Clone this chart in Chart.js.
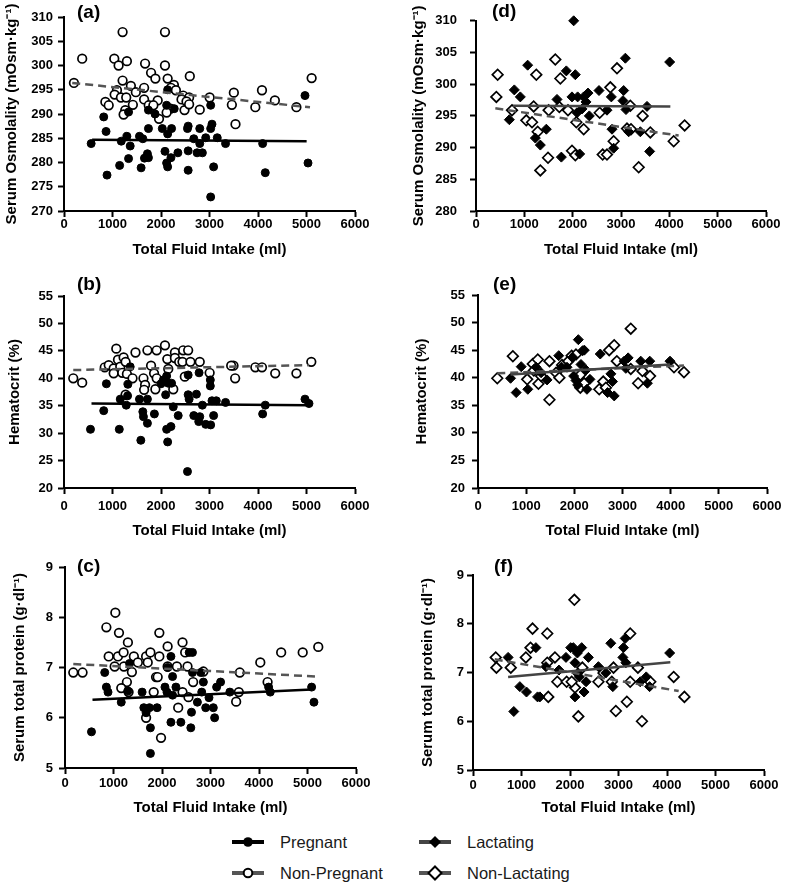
<!DOCTYPE html>
<html>
<head>
<meta charset="utf-8">
<script src="https://cdn.jsdelivr.net/npm/chart.js@4.4.1/dist/chart.umd.min.js"></script>
<style>
  body { margin: 0; background: #fff; width: 787px; height: 891px; position: relative; overflow: hidden;
         font-family: "Liberation Sans", Arial, Helvetica, sans-serif; }
  .panel { position: absolute; }
  .leg { position: absolute; display: flex; align-items: center; height: 20px; font-size: 16.5px; color: #1a1a1a; }
  .leg svg { margin-right: 16px; }
</style>
</head>
<body>
<div class="leg" style="left:232px; top:832px">
  <svg width="32" height="20"><line x1="0" y1="10" x2="32" y2="10" stroke="#000" stroke-width="4"/><circle cx="16" cy="10" r="4.8" fill="#000"/></svg><span>Pregnant</span>
</div>
<div class="leg" style="left:419px; top:832px">
  <svg width="32" height="20"><line x1="0" y1="10" x2="32" y2="10" stroke="#444" stroke-width="4"/><polygon points="16,4 22,10 16,16 10,10" fill="#000"/></svg><span>Lactating</span>
</div>
<div class="leg" style="left:232px; top:863px">
  <svg width="32" height="20"><line x1="0" y1="10" x2="32" y2="10" stroke="#555" stroke-width="4"/><circle cx="16" cy="10" r="4.3" fill="#fff" stroke="#000" stroke-width="2"/></svg><span>Non-Pregnant</span>
</div>
<div class="leg" style="left:419px; top:863px">
  <svg width="32" height="20"><line x1="0" y1="10" x2="32" y2="10" stroke="#555" stroke-width="4"/><polygon points="16,3.5 22.5,10 16,16.5 9.5,10" fill="#fff" stroke="#000" stroke-width="2"/></svg><span>Non-Lactating</span>
</div>

<script>
const FONT = '"Liberation Sans", Arial, Helvetica, sans-serif';

// tick values
const xTickVals = [0, 1000, 2000, 3000, 4000, 5000, 6000];
const osmTicksA = [270, 275, 280, 285, 290, 295, 300, 305, 310];
const osmTicksD = [280, 285, 290, 295, 300, 305, 310];
const hctTicks = [20, 25, 30, 35, 40, 45, 50, 55];
const protTicks = [5, 6, 7, 8, 9];

// (a) serum osmolality, pregnancy study  [fluid intake ml, mOsm/kg]
const aPregnant = [[560,283.9],[819,289.4],[867,286.4],[887,277.4],[1147,279.4],[1181,284.4],[1297,285.4],[1365,283.4],[1331,280.8],[1331,290.4],[1556,285.4],[1625,284.9],[1590,278.9],[1659,280.9],[1720,281.8],[1741,281.0],[1741,287.0],[1741,290.8],[1877,290.0],[2027,287.0],[2082,282.3],[2116,279.9],[2137,279.1],[2205,281.0],[2137,285.9],[2218,287.0],[2116,291.8],[2137,295.0],[2273,291.1],[2348,282.0],[2546,287.0],[2560,287.5],[2560,282.4],[2560,278.4],[2676,284.9],[2799,287.0],[2799,283.9],[2744,282.0],[2853,282.0],[2922,285.1],[3024,287.0],[3051,287.9],[3024,291.8],[3085,279.1],[3024,272.9],[3160,285.1],[3331,283.9],[4096,283.9],[4150,277.9],[4969,293.8],[5031,279.9]];
const aNonPregnant = [[205,296.4],[375,301.4],[1208,306.9],[2082,306.9],[1037,301.4],[1297,300.9],[1126,300.0],[1672,300.4],[2082,300.0],[1795,298.5],[1884,297.3],[2137,297.3],[2594,297.8],[1208,296.9],[1379,295.8],[1652,295.4],[2266,296.0],[2205,295.4],[2307,294.9],[1092,294.9],[1044,294.0],[1481,294.5],[1174,293.4],[1283,293.4],[1652,293.0],[1932,292.8],[2457,293.8],[2580,293.4],[2423,293.0],[2526,292.6],[3003,293.4],[3502,294.4],[4082,294.9],[4348,292.8],[5106,297.4],[4792,291.4],[3945,291.4],[3461,291.9],[853,292.5],[922,291.8],[1420,291.9],[1263,290.8],[1229,289.9],[1747,291.8],[1843,291.8],[1959,289.0],[2198,291.1],[2116,290.3],[2485,290.8],[2580,292.0],[2799,290.9],[3536,287.9]];
const aPregnantFit = [[580,284.7],[5003,284.4]];
const aNonPregnantFit = [[170,296.4],[5072,291.4]];

// (b) hematocrit, pregnancy study
const bPregnant = [[546,30.7],[819,34.1],[874,39.0],[1140,30.7],[1160,36.2],[1283,35.1],[1311,36.8],[1317,38.9],[1365,42.1],[1556,36.2],[1584,28.7],[1625,33.9],[1638,33.0],[1720,31.8],[1720,36.2],[1864,33.5],[2000,39.0],[2048,39.7],[2096,37.0],[2116,30.7],[2137,28.4],[2205,31.2],[2116,40.4],[2150,39.1],[2218,39.1],[2253,34.8],[2355,33.2],[2560,40.6],[2560,37.0],[2580,36.2],[2546,23.0],[2676,33.2],[2730,37.1],[2785,41.0],[2853,35.1],[2778,32.1],[2799,33.0],[2922,31.6],[3024,31.5],[3017,39.7],[3017,38.6],[3051,35.9],[3140,35.9],[3085,33.2],[3331,35.6],[4150,35.1],[4096,33.5],[4969,36.2],[5051,35.4]];
const bNonPregnant = [[191,40.0],[375,39.2],[1078,45.4],[840,42.0],[922,42.4],[1024,41.8],[1024,40.9],[1113,43.4],[1229,43.8],[1160,42.1],[1270,43.0],[1201,41.0],[1297,40.8],[1413,40.0],[1474,44.7],[1270,37.0],[1720,45.1],[1911,45.1],[2082,46.0],[2287,44.7],[2457,45.1],[2560,45.1],[2130,43.5],[2287,43.7],[2375,43.0],[2443,43.0],[2607,43.0],[2799,43.0],[1795,42.3],[2150,41.7],[1857,40.9],[1911,40.0],[1638,40.0],[1672,38.8],[1652,37.9],[1884,38.0],[2253,38.0],[2491,40.3],[3003,41.0],[3495,42.3],[3529,40.0],[3945,42.0],[4082,42.0],[4355,40.9],[4792,40.9],[5099,43.0],[3447,42.3]];
const bPregnantFit = [[567,35.4],[5051,35.1]];
const bNonPregnantFit = [[191,41.5],[5051,42.4]];

// (c) serum total protein, pregnancy study
const cPregnant = [[819,6.90],[853,6.61],[887,6.51],[1160,6.31],[1297,6.53],[1331,7.08],[1590,6.51],[1625,6.20],[1741,6.20],[1898,6.20],[1672,6.10],[1761,5.80],[1761,5.29],[2184,5.91],[2389,5.91],[2594,5.80],[2608,6.11],[2061,6.61],[2102,6.51],[2218,6.45],[2116,7.00],[2184,7.22],[2218,6.82],[2287,6.61],[2560,7.30],[2628,7.30],[2628,6.90],[2799,6.90],[2730,6.31],[2853,6.71],[2819,6.51],[2969,6.40],[2901,6.20],[3058,6.20],[3085,6.00],[3126,6.61],[3208,6.71],[3399,6.51],[4198,6.61],[4232,6.51],[5085,6.61],[5133,6.31],[546,5.72]];
const cNonPregnant = [[171,6.90],[362,6.90],[1038,8.09],[853,7.80],[1113,7.69],[1297,7.50],[1945,7.69],[901,7.22],[1092,7.22],[1208,7.30],[1024,7.02],[1215,7.02],[1420,7.22],[1502,7.10],[1379,6.91],[1672,7.22],[1761,7.30],[1706,7.10],[1945,7.22],[2116,7.42],[2423,7.50],[2478,7.30],[2116,7.02],[2307,7.02],[2526,7.02],[1276,6.71],[1160,6.59],[1877,6.81],[1911,6.81],[1829,6.51],[1311,6.51],[2423,6.51],[2546,6.41],[2642,6.71],[2853,6.92],[3604,6.90],[3584,6.51],[3529,6.32],[4027,7.10],[4177,6.71],[4457,7.30],[4901,7.30],[5222,7.41],[2334,6.20],[1672,6.00],[1980,5.60]];
const cPregnantFit = [[567,6.36],[5085,6.56]];
const cNonPregnantFit = [[171,7.07],[5188,6.82]];

// (d) serum osmolality, lactation study
const dLactating = [[690,294.4],[793,299.1],[917,298.0],[1069,303.0],[1228,291.5],[1331,290.4],[1455,292.9],[1676,297.6],[1766,288.5],[1869,302.1],[2021,310.0],[2055,301.5],[1986,298.0],[2103,298.0],[2090,295.5],[2145,289.0],[2193,296.1],[2228,298.0],[2276,297.2],[2317,298.6],[2345,295.0],[2545,299.0],[2710,295.9],[2800,298.0],[2814,292.9],[2848,289.9],[3055,299.0],[3090,304.1],[3041,297.4],[3103,296.0],[3159,292.5],[3400,292.5],[3538,296.5],[3593,289.4],[4007,303.5]];
const dNonLactating = [[448,301.5],[421,298.0],[745,295.9],[1248,301.5],[1193,296.5],[1041,294.3],[1159,294.0],[1276,292.5],[1331,286.4],[1490,288.4],[1503,295.9],[1641,303.9],[1745,300.9],[1724,296.4],[1903,295.9],[1986,289.5],[2055,288.8],[2076,294.0],[2228,292.9],[2559,295.5],[2621,288.9],[2710,288.9],[2779,299.5],[2917,302.5],[2848,291.0],[3124,293.0],[3193,296.6],[3207,292.9],[3366,286.9],[3448,295.0],[3607,292.4],[4090,291.0],[4317,293.5]];
const dLactatingFit = [[765,296.6],[4021,296.5]];
const dNonLactatingFit = [[400,296.2],[4193,291.9]];

// (e) hematocrit, lactation study
const eLactating = [[676,39.9],[793,37.3],[897,42.0],[1034,37.9],[1207,41.9],[1310,40.9],[1434,39.6],[1676,44.0],[1738,41.9],[1848,41.9],[1966,43.7],[1986,40.3],[2034,39.5],[2069,38.7],[2083,46.9],[2138,42.4],[2172,44.9],[2207,45.0],[2241,41.4],[2262,37.9],[2324,39.7],[2538,44.3],[2759,40.7],[2793,39.3],[2690,37.3],[2828,36.7],[3034,43.0],[3069,41.7],[3117,43.6],[3379,43.0],[3517,39.0],[3566,43.0],[3986,43.0]];
const eNonLactating = [[400,39.9],[724,43.9],[1021,39.7],[1138,42.5],[1159,41.3],[1241,43.3],[1255,38.9],[1310,40.3],[1483,36.0],[1483,43.0],[1621,40.9],[1690,40.0],[1745,42.3],[1876,43.0],[1945,44.0],[2034,44.2],[2124,40.5],[2124,38.2],[2207,39.0],[2517,37.9],[2600,39.3],[2655,38.2],[2724,45.0],[2828,45.9],[2883,43.0],[3172,48.9],[3172,41.6],[3324,39.0],[3414,41.2],[3572,40.3],[4069,41.9],[4276,41.0]];
const eLactatingFit = [[676,40.6],[3986,42.4]];
const eNonLactatingFit = [[400,40.8],[4276,42.2]];

// (f) serum total protein, lactation study
const fLactating = [[724,7.31],[841,6.20],[966,6.71],[1103,6.60],[1297,7.51],[1331,6.50],[1379,6.50],[1503,7.12],[1772,7.05],[1917,7.31],[2014,7.51],[2069,7.51],[2152,7.40],[2241,7.51],[2103,7.20],[2152,6.98],[2193,6.91],[2103,6.50],[2379,7.31],[2331,6.81],[2290,6.60],[2586,7.12],[2738,6.99],[2841,7.60],[2883,6.71],[3103,7.51],[3090,7.31],[3152,7.20],[3138,7.70],[3448,6.81],[3572,6.91],[3641,6.71],[4055,7.40]];
const fNonLactating = [[469,7.31],[483,7.10],[779,7.10],[1090,7.31],[1228,7.90],[1186,7.51],[1531,7.80],[1552,6.50],[1690,7.31],[1531,7.20],[1738,6.81],[1931,6.81],[2090,8.49],[2103,6.69],[2034,6.81],[2172,6.10],[2255,7.10],[2586,6.81],[2690,6.99],[2862,6.81],[2897,7.10],[2945,6.21],[3172,6.40],[3241,7.80],[3241,6.81],[3400,7.10],[3483,6.00],[3655,6.81],[4138,6.91],[4359,6.50]];
const fLactatingFit = [[724,6.91],[4069,7.21]];
const fNonLactatingFit = [[448,7.27],[4241,6.62]];

const xTitle = 'Total Fluid Intake (ml)';
const osmTitle = 'Serum Osmolality (mOsm·kg⁻¹)';
const hctTitle = 'Hematocrit (%)';
const protTitle = 'Serum total protein (g·dl⁻¹)';

// marker / line styles
const styles = {
  filledCircle: { pointStyle: 'circle', pointRadius: 4.0, pointBackgroundColor: '#000', pointBorderColor: '#000', pointBorderWidth: 1 },
  openCircle:   { pointStyle: 'circle', pointRadius: 4.3, pointBackgroundColor: '#fff', pointBorderColor: '#000', pointBorderWidth: 1.7 },
  filledDiamond:{ pointStyle: 'rectRot', pointRadius: 5.0, pointBackgroundColor: '#000', pointBorderColor: '#000', pointBorderWidth: 1 },
  openDiamond:  { pointStyle: 'rectRot', pointRadius: 5.3, pointBackgroundColor: '#fff', pointBorderColor: '#000', pointBorderWidth: 1.7 },
  solidBlack: { borderColor: '#000', borderWidth: 2.5, borderDash: [] },
  solidGrey:  { borderColor: '#444', borderWidth: 2.5, borderDash: [] },
  dashedGrey: { borderColor: '#555', borderWidth: 2.5, borderDash: [8, 5] }
};

// panel positions in page pixels (canvas box and plot area)
const panels = [
  { label: '(a)', yTitle: osmTitle, yTicks: osmTicksA, fits: [[aPregnantFit, 'solidBlack'], [aNonPregnantFit, 'dashedGrey']],
    pts: [[aPregnant, 'filledCircle'], [aNonPregnant, 'openCircle']],
    cx: 0, cy: 0, cw: 380, ch: 259, L: 64, R: 355, T: 17, B: 211, yPad: 5, xPad: 0, yTitleX: 12, labX: 77, labY: 13 },
  { label: '(b)', yTitle: hctTitle, yTicks: hctTicks, fits: [[bPregnantFit, 'solidBlack'], [bNonPregnantFit, 'dashedGrey']],
    pts: [[bPregnant, 'filledCircle'], [bNonPregnant, 'openCircle']],
    cx: 0, cy: 259, cw: 380, ch: 281, L: 64, R: 355, T: 296, B: 488, yPad: 5, xPad: 5, yTitleX: 15, labX: 77, labY: 285 },
  { label: '(c)', yTitle: protTitle, yTicks: protTicks, fits: [[cPregnantFit, 'solidBlack'], [cNonPregnantFit, 'dashedGrey']],
    pts: [[cPregnant, 'filledCircle'], [cNonPregnant, 'openCircle']],
    cx: 0, cy: 540, cw: 380, ch: 277, L: 65, R: 356, T: 567, B: 768, yPad: 6, xPad: 2, yTitleX: 20, labX: 77, labY: 567 },
  { label: '(d)', yTitle: osmTitle, yTicks: osmTicksD, fits: [[dLactatingFit, 'solidGrey'], [dNonLactatingFit, 'dashedGrey']],
    pts: [[dLactating, 'filledDiamond'], [dNonLactating, 'openDiamond']],
    cx: 380, cy: 0, cw: 407, ch: 259, L: 476, R: 766, T: 17, B: 211, yPad: 13, xPad: 0, yTitleX: 419, labX: 492, labY: 12 },
  { label: '(e)', yTitle: hctTitle, yTicks: hctTicks, fits: [[eLactatingFit, 'solidGrey'], [eNonLactatingFit, 'dashedGrey']],
    pts: [[eLactating, 'filledDiamond'], [eNonLactating, 'openDiamond']],
    cx: 380, cy: 259, cw: 407, ch: 281, L: 478, R: 767, T: 295, B: 488, yPad: 7, xPad: 5, yTitleX: 422, labX: 493, labY: 285 },
  { label: '(f)', yTitle: protTitle, yTicks: protTicks, fits: [[fLactatingFit, 'solidGrey'], [fNonLactatingFit, 'dashedGrey']],
    pts: [[fLactating, 'filledDiamond'], [fNonLactating, 'openDiamond']],
    cx: 380, cy: 540, cw: 407, ch: 277, L: 473, R: 764, T: 575, B: 770, yPad: 3, xPad: 2, yTitleX: 428, labX: 494, labY: 567 }
];

// draws "(a)", "(b)" ... in the corner of each panel
const panelLabel = {
  id: 'panelLabel',
  afterDraw(chart, args, opts) {
    const ctx = chart.ctx;
    ctx.save();
    ctx.font = 'bold 19px ' + FONT;
    ctx.fillStyle = '#000';
    ctx.textAlign = 'left';
    ctx.textBaseline = 'middle';
    ctx.fillText(opts.text, opts.x, opts.y);
    ctx.restore();
  }
};

const toXY = arr => arr.map(p => ({ x: p[0], y: p[1] }));
const TICK = 6;
const plain = v => String(v);

panels.forEach(p => {
  const box = document.createElement('div');
  box.className = 'panel';
  box.style.left = p.cx + 'px';
  box.style.top = p.cy + 'px';
  box.style.width = p.cw + 'px';
  box.style.height = p.ch + 'px';
  const cv = document.createElement('canvas');
  box.appendChild(cv);
  document.body.appendChild(box);

  const datasets = [];
  p.fits.forEach(([line, st]) => {
    datasets.push(Object.assign({ data: toXY(line), showLine: true, pointRadius: 0, clip: false, fill: false }, styles[st]));
  });
  p.pts.forEach(([pts, st]) => {
    datasets.push(Object.assign({ data: toXY(pts), showLine: false, clip: false }, styles[st]));
  });

  const axisCommon = {
    type: 'linear',
    grid: { display: true, drawOnChartArea: false, drawTicks: true, tickLength: TICK, tickWidth: 2, tickColor: '#000' },
    border: { display: true, color: '#000', width: 2 }
  };

  new Chart(cv, {
    type: 'scatter',
    data: { datasets },
    plugins: [panelLabel],
    options: {
      responsive: true,
      maintainAspectRatio: false,
      animation: false,
      layout: { padding: { left: 0, top: p.T - p.cy, right: p.cx + p.cw - p.R, bottom: 0 } },
      plugins: {
        legend: { display: false },
        tooltip: { enabled: false },
        panelLabel: { text: p.label, x: p.labX - p.cx, y: p.labY - p.cy }
      },
      scales: {
        x: Object.assign({}, axisCommon, {
          min: xTickVals[0], max: xTickVals[xTickVals.length - 1],
          afterBuildTicks: s => { s.ticks = xTickVals.map(v => ({ value: v })); },
          afterFit: s => { s.height = p.cy + p.ch - p.B; },
          ticks: { padding: p.xPad, color: '#000', callback: plain, font: { family: FONT, size: 13, weight: 'bold' } },
          title: { display: true, text: xTitle, color: '#000', font: { family: FONT, size: 15, weight: 'bold' }, padding: { top: 0, bottom: 0 } }
        }),
        y: Object.assign({}, axisCommon, {
          min: p.yTicks[0], max: p.yTicks[p.yTicks.length - 1],
          afterBuildTicks: s => { s.ticks = p.yTicks.map(v => ({ value: v })); },
          afterFit: s => { s.width = p.L - p.cx; },
          ticks: { padding: p.yPad, color: '#000', callback: plain, font: { family: FONT, size: 13, weight: 'bold' } },
          title: { display: true, text: p.yTitle, color: '#000', font: { family: FONT, size: 15, weight: 'bold' }, padding: { top: p.yTitleX - p.cx - 9, bottom: 0 } }
        })
      }
    }
  });
});
</script>
</body>
</html>
